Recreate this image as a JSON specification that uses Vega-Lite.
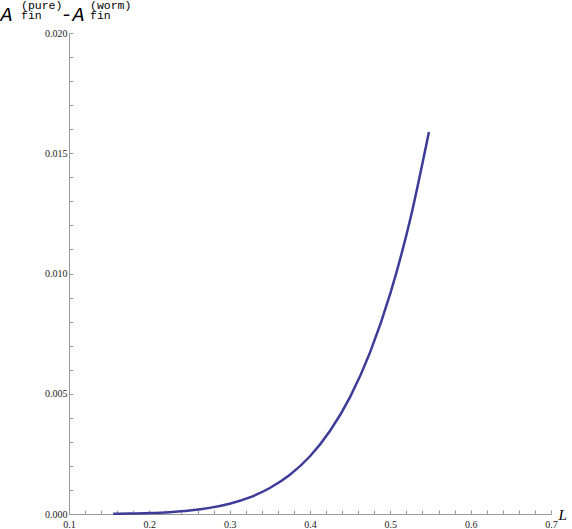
{
  "$schema": "https://vega.github.io/schema/vega-lite/v6.json",
  "width": 482,
  "height": 481,
  "autosize": {"type": "none"},
  "padding": {"left": 69, "top": 33, "right": 21, "bottom": 15},
  "background": "white",
  "title": {
    "text": "(pure)\u00a0\u00a0\u00a0\u00a0(worm)",
    "subtitle": "fin\u00a0\u00a0\u00a0\u00a0\u00a0\u00a0\u00a0fin",
    "anchor": "start",
    "frame": "group",
    "dx": -48,
    "dy": 27,
    "offset": 10,
    "font": "Liberation Mono",
    "fontSize": 11.5,
    "fontWeight": "normal",
    "color": "#000000",
    "subtitleFont": "Liberation Mono",
    "subtitleFontSize": 11.5,
    "subtitleColor": "#000000",
    "subtitlePadding": -2
  },
  "config": {
    "view": {"stroke": null},
    "axis": {
      "grid": false,
      "domainColor": "#999999",
      "domainWidth": 1,
      "tickColor": "#999999",
      "tickWidth": 1,
      "tickSize": -4,
      "labelFont": "Liberation Serif",
      "labelFontSize": 10,
      "labelColor": "#222222"
    }
  },
  "data": {
    "values": [
      {"L": 0.155, "d": 0.0000081},
      {"L": 0.175, "d": 0.0000169},
      {"L": 0.2, "d": 0.0000376},
      {"L": 0.225, "d": 0.0000762},
      {"L": 0.25, "d": 0.000143},
      {"L": 0.275, "d": 0.000254},
      {"L": 0.3, "d": 0.000428},
      {"L": 0.325, "d": 0.000692},
      {"L": 0.35, "d": 0.00108},
      {"L": 0.375, "d": 0.00163},
      {"L": 0.4, "d": 0.0024},
      {"L": 0.425, "d": 0.00346},
      {"L": 0.45, "d": 0.00487},
      {"L": 0.475, "d": 0.00674},
      {"L": 0.5, "d": 0.00917},
      {"L": 0.525, "d": 0.01229},
      {"L": 0.548, "d": 0.01588}
    ]
  },
  "mark": {"type": "line", "color": "#3d3d99", "strokeWidth": 2.5, "interpolate": "monotone", "clip": false},
  "encoding": {
    "x": {
      "field": "L",
      "type": "quantitative",
      "scale": {"domain": [0.1, 0.7], "nice": false, "zero": false},
      "axis": {
        "values": [0.1, 0.12, 0.14, 0.16, 0.18, 0.2, 0.22, 0.24, 0.26, 0.28, 0.3, 0.32, 0.34, 0.36, 0.38, 0.4, 0.42, 0.44, 0.46, 0.48, 0.5, 0.52, 0.54, 0.56, 0.58, 0.6, 0.62, 0.64, 0.66, 0.68, 0.7],
        "labelExpr": "abs(datum.value*10 - round(datum.value*10)) < 0.001 ? format(datum.value, '.1f') : ''",
        "labelPadding": 9,
        "labelFlush": false,
        "labelOverlap": false,
        "title": "L",
        "titleFont": "Liberation Serif",
        "titleFontStyle": "italic",
        "titleFontWeight": "normal",
        "titleFontSize": 15,
        "titleColor": "#000000",
        "titleAngle": 0,
        "titleAlign": "left",
        "titleBaseline": "middle",
        "titleX": 489,
        "titleY": 0
      }
    },
    "y": {
      "field": "d",
      "type": "quantitative",
      "scale": {"domain": [0, 0.02], "nice": false, "zero": true},
      "axis": {
        "values": [0, 0.001, 0.002, 0.003, 0.004, 0.005, 0.006, 0.007, 0.008, 0.009, 0.01, 0.011, 0.012, 0.013, 0.014, 0.015, 0.016, 0.017, 0.018, 0.019, 0.02],
        "labelExpr": "abs(datum.value*200 - round(datum.value*200)) < 0.001 ? format(datum.value, '.3f') : ''",
        "labelPadding": 6,
        "labelFlush": false,
        "labelOverlap": false,
        "title": "A\u00a0\u00a0\u00a0\u00a0-A",
        "titleFont": "Liberation Mono",
        "titleFontStyle": "italic",
        "titleFontWeight": "normal",
        "titleFontSize": 20,
        "titleColor": "#000000",
        "titleAngle": 0,
        "titleAlign": "left",
        "titleBaseline": "alphabetic",
        "titleX": -69,
        "titleY": -13
      }
    }
  }
}
